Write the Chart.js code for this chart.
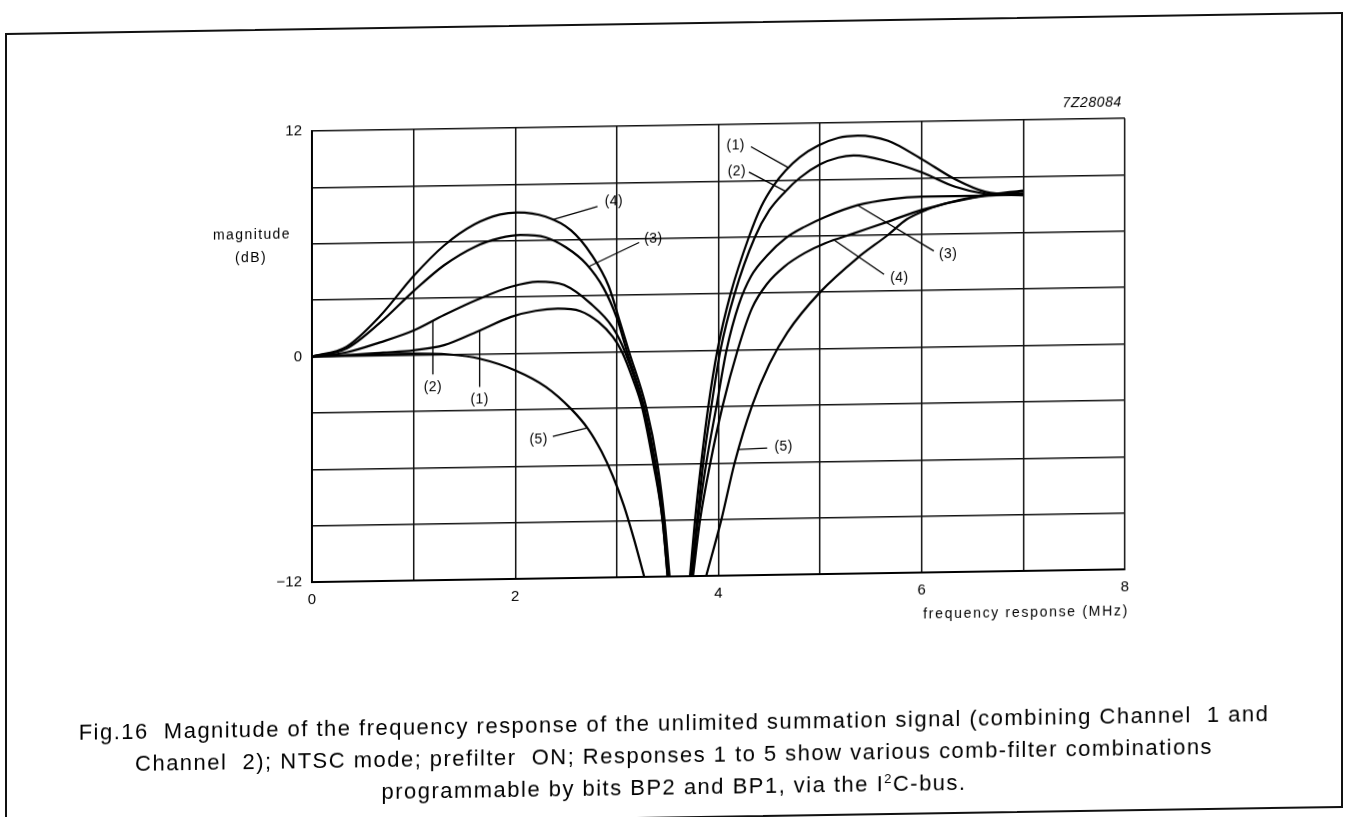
<!DOCTYPE html>
<html>
<head>
<meta charset="utf-8">
<script src="https://cdn.jsdelivr.net/npm/chart.js@4.4.1/dist/chart.umd.min.js"></script>
<style>
html, body { margin: 0; padding: 0; background: #fff; overflow: hidden; }
#page { position: relative; width: 1348px; height: 817px; transform: skewY(-0.9deg); transform-origin: 0 0; }
#frame { position: absolute; left: 5px; top: 33px; width: 1334px; height: 792px; border: 2px solid #111; }
#graph { position: absolute; left: 0; top: 0; }
.cap { position: absolute; left: 0; width: 1348px; text-align: center; white-space: pre;
       font: 22px "Liberation Sans", Arial, sans-serif; color: #000; line-height: 32px; }
.cap sup { font-size: 13px; vertical-align: 8px; line-height: 0; }
</style>
</head>
<body>
<div id="page">
  <div id="frame"></div>
  <canvas id="graph" width="1348" height="817"></canvas>
  <div class="cap" id="cap1" style="top:718px">Fig.16  Magnitude of the frequency response of the unlimited summation signal (combining Channel  1 and</div>
  <div class="cap" id="cap2" style="top:750px">Channel  2); NTSC mode; prefilter  ON; Responses 1 to 5 show various comb-filter combinations</div>
  <div class="cap" id="cap3" style="top:782px">programmable by bits BP2 and BP1, via the I<sup>2</sup>C-bus.</div>
</div>
<script>
// frequency (MHz) and magnitude (dB) per response, null = below the bottom of the plot
const freq1 = [0, 0.34, 0.7, 1.0, 1.3, 1.63, 1.96, 2.2, 2.42, 2.64, 2.82, 2.96, 3.05, 3.16, 3.25, 3.36, 3.45, 3.5, 3.61, 3.72, 3.77, 3.83, 3.9, 3.99, 4.12, 4.3, 4.42, 4.54, 4.66, 4.8, 4.98, 5.18, 5.37, 5.67, 6.0, 6.33, 6.63, 7.0];
const db1   = [0, 0.05, 0.15, 0.25, 0.5, 1.2, 1.95, 2.25, 2.35, 2.2, 1.6, 0.8, 0, -1.5, -3, -6, -9, -12, null, -12, -9, -6, -3, 0, 3, 6, 7.6, 8.7, 9.5, 10.2, 10.8, 11.2, 11.3, 11.0, 10.0, 8.9, 8.2, 8.0];

const freq2 = [0, 0.34, 0.67, 1.0, 1.3, 1.63, 1.96, 2.22, 2.48, 2.74, 2.96, 3.08, 3.26, 3.37, 3.45, 3.5, 3.62, 3.73, 3.79, 3.85, 3.93, 4.02, 4.16, 4.36, 4.5, 4.66, 4.8, 5.0, 5.18, 5.33, 5.67, 6.0, 6.33, 6.63, 7.0];
const db2   = [0, 0.2, 0.7, 1.3, 2.1, 2.9, 3.55, 3.8, 3.6, 2.6, 1.3, 0, -3, -6, -9, -12, null, -12, -9, -6, -3, 0, 3, 6, 7.4, 8.4, 9.1, 9.8, 10.15, 10.25, 9.9, 9.3, 8.5, 8.1, 8.0];

const freq3 = [0, 0.34, 0.67, 1.0, 1.3, 1.6, 1.85, 2.05, 2.3, 2.5, 2.7, 2.87, 3.0, 3.1, 3.27, 3.38, 3.46, 3.51, 3.63, 3.74, 3.8, 3.88, 3.98, 4.08, 4.2, 4.32, 4.48, 4.66, 4.85, 5.05, 5.37, 5.7, 6.0, 6.63, 7.0];
const db3   = [0, 0.4, 1.75, 3.4, 4.75, 5.7, 6.15, 6.3, 6.15, 5.6, 4.7, 3.4, 1.8, 0, -3, -6, -9, -12, null, -12, -9, -6, -3, 0, 2.4, 3.9, 5.0, 5.9, 6.5, 7.0, 7.6, 7.9, 8.0, 8.0, 8.1];

const freq4 = [0, 0.34, 0.67, 1.0, 1.3, 1.6, 1.85, 2.02, 2.3, 2.55, 2.75, 2.92, 3.03, 3.12, 3.29, 3.4, 3.47, 3.52, 3.64, 3.75, 3.82, 3.92, 4.04, 4.19, 4.33, 4.48, 4.65, 4.85, 5.05, 5.33, 5.67, 6.0, 6.5, 7.0];
const db4   = [0, 0.5, 2.1, 4.2, 5.8, 6.9, 7.4, 7.5, 7.25, 6.5, 5.2, 3.5, 1.6, 0, -3, -6, -9, -12, null, -12, -9, -6, -3, 0, 2.2, 3.5, 4.4, 5.1, 5.6, 6.1, 6.7, 7.3, 7.9, 8.2];

const freq5 = [0, 0.5, 1.0, 1.35, 1.65, 2.0, 2.3, 2.55, 2.72, 2.85, 2.96, 3.07, 3.17, 3.27, 3.57, 3.88, 4.03, 4.16, 4.33, 4.5, 4.68, 5.0, 5.37, 5.67, 5.85, 6.05, 6.3, 6.6, 7.0];
const db5   = [0, 0.05, 0.08, 0, -0.25, -0.9, -1.8, -3.0, -4.1, -5.3, -6.6, -8.2, -10, -12, null, -12, -9, -6, -3, -0.8, 0.9, 3.0, 4.8, 6.0, 6.8, 7.3, 7.7, 8.0, 8.25];

const yTickLabels = { '12': '12', '0': '0', '-12': '\u221212' };
const xTickLabels = { '0': '0', '2': '2', '4': '4', '6': '6', '8': '8' };

// curve call-outs: text, where the text sits, leader start, leader end (MHz, dB)
const callouts = [
  ['(4)', [2.97, 8.0], [2.81, 7.75], [2.36, 7.07]],
  ['(3)', [3.36, 6.0], [3.22, 5.8], [2.72, 4.55]],
  ['(2)', [1.19, -1.75], [1.19, -1.05], [1.19, 1.8]],
  ['(1)', [1.65, -2.45], [1.65, -1.75], [1.65, 1.25]],
  ['(5)', [2.23, -4.6], [2.37, -4.45], [2.71, -4.03]],
  ['(1)', [4.17, 10.9], [4.32, 10.8], [4.69, 9.65]],
  ['(2)', [4.18, 9.5], [4.3, 9.45], [4.66, 8.4]],
  ['(3)', [6.26, 4.9], [6.12, 5.1], [5.37, 7.6]],
  ['(4)', [5.78, 3.7], [5.63, 3.9], [5.14, 5.76]],
  ['(5)', [4.64, -5.2], [4.48, -5.25], [4.2, -5.3]]
];

const FONT = '"Liberation Sans", Arial, Helvetica, sans-serif';
Chart.defaults.font.family = FONT;
Chart.defaults.color = '#000';

function pts(f, d) {
  return f.map((x, i) => ({ x: x, y: d[i] }));
}

function curve(f, d) {
  return {
    data: pts(f, d),
    borderColor: '#000',
    borderWidth: 2.2,
    pointRadius: 0,
    fill: false,
    spanGaps: false,
    cubicInterpolationMode: 'monotone'
  };
}

const textPlugin = {
  id: 'figText',
  afterDraw(chart) {
    const ctx = chart.ctx;
    const a = chart.chartArea;
    const xs = chart.scales.x, ys = chart.scales.y;
    ctx.save();
    ctx.fillStyle = '#000';
    ctx.strokeStyle = '#000';

    // figure code, top right
    ctx.font = 'italic 14px ' + FONT;
    ctx.letterSpacing = '0.6px';
    ctx.textAlign = 'right';
    ctx.textBaseline = 'middle';
    ctx.fillText('7Z28084', a.right - 3, a.top - 16);

    // axis titles
    ctx.font = '14px ' + FONT;
    ctx.letterSpacing = '1.4px';
    ctx.textAlign = 'center';
    ctx.fillText('magnitude', a.left - 60, ys.getPixelForValue(6.5));
    ctx.fillText('(dB)', a.left - 61, ys.getPixelForValue(5.3));
    ctx.letterSpacing = '1.7px';
    ctx.textAlign = 'right';
    ctx.fillText('frequency response (MHz)', a.right + 4, a.bottom + 42);

    // call-outs with leaders
    ctx.font = '14px ' + FONT;
    ctx.letterSpacing = '0.4px';
    ctx.textAlign = 'center';
    ctx.lineWidth = 1.3;
    callouts.forEach(c => {
      ctx.fillText(c[0], xs.getPixelForValue(c[1][0]), ys.getPixelForValue(c[1][1]));
      ctx.beginPath();
      ctx.moveTo(xs.getPixelForValue(c[2][0]), ys.getPixelForValue(c[2][1]));
      ctx.lineTo(xs.getPixelForValue(c[3][0]), ys.getPixelForValue(c[3][1]));
      ctx.stroke();
    });
    ctx.restore();
  }
};

new Chart(document.getElementById('graph'), {
  type: 'line',
  data: {
    datasets: [
      curve(freq1, db1),
      curve(freq2, db2),
      curve(freq3, db3),
      curve(freq4, db4),
      curve(freq5, db5)
    ]
  },
  options: {
    responsive: false,
    animation: false,
    devicePixelRatio: 1,
    layout: { padding: { left: 0, right: 223, top: 136, bottom: 190 } },
    plugins: { legend: { display: false }, tooltip: { enabled: false } },
    scales: {
      x: {
        type: 'linear',
        min: 0,
        max: 8,
        afterFit: s => { s.height = 40; },
        border: { color: '#000', width: 2 },
        grid: { color: '#111', lineWidth: 1.5, drawTicks: false },
        ticks: {
          stepSize: 1,
          autoSkip: false,
          maxRotation: 0,
          padding: 9,
          font: { size: 15 },
          color: '#000',
          callback: v => xTickLabels[String(v)] || ''
        }
      },
      y: {
        min: -12,
        max: 12,
        afterFit: s => { s.width = 312; },
        border: { color: '#000', width: 2 },
        grid: { color: '#111', lineWidth: 1.5, drawTicks: false },
        ticks: {
          stepSize: 3,
          autoSkip: false,
          padding: 10,
          font: { size: 15 },
          color: '#000',
          callback: v => yTickLabels[String(v)] || ''
        }
      }
    }
  },
  plugins: [textPlugin]
});

// stretch the caption lines to the width of the printed ones
(function () {
  const m = document.createElement('canvas').getContext('2d');
  m.font = '22px ' + FONT;
  const line2 = document.getElementById('cap2').textContent;
  const ls = (1078 - m.measureText(line2).width) / line2.length;
  document.querySelectorAll('.cap').forEach(el => { el.style.letterSpacing = ls.toFixed(2) + 'px'; });
})();
</script>
</body>
</html>
